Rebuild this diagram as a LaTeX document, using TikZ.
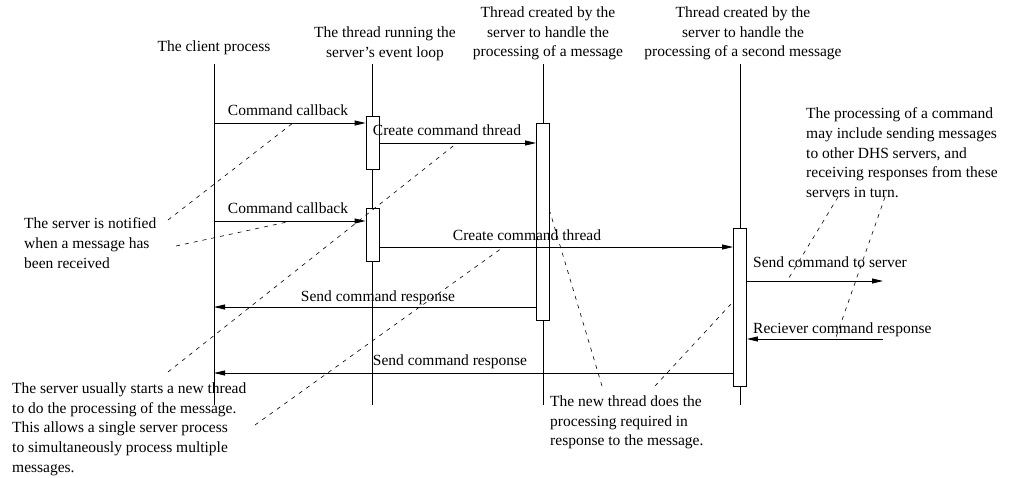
\documentclass[tikz,border=0pt]{standalone}
\usepackage{fontspec}
\setmainfont{Liberation Serif}
\usetikzlibrary{arrows.meta}
\tikzset{
  lifeline/.style={line width=0.8pt},
  actbox/.style={draw,fill=white,line width=0.8pt,minimum width=13pt,inner sep=0pt},
  msg/.style={->,line width=0.8pt},
  msglbl/.style={anchor=base,inner sep=0pt},
  head/.style={align=center,anchor=north,inner sep=0pt},
  note/.style={align=left,anchor=north west,inner sep=0pt},
  pointer/.style={line width=0.6pt,dash pattern=on 4pt off 5pt}
}
\begin{document}
\begin{tikzpicture}[x=1pt,y=-1pt,>={Triangle[length=11pt,width=5pt]},font=\fontsize{15.5}{19.8}\selectfont]
	\useasboundingbox (0,0) rectangle (1011,477);
	% headings
	\node[head] (hcl) at (214,40.5) {The client process};
	\node[head] (hev) at (385,26.4) {The thread running the\\server's event loop};
	\node[head] (htA) at (548,6.4) {Thread created by the\\server to handle the\\processing of a message};
	\node[head] (htB) at (743,6.4) {Thread created by the\\server to handle the\\processing of a second message};
	% lifelines
	\foreach \n/\x in {cl/214,ev/372,tA/543,tB/740}{
		\coordinate (\n-top) at (\x,64);
		\coordinate (\n-bot) at (\x,405);
		\draw[lifeline] (\n-top)--(\n-bot);
	}
	% activation boxes
	\node[actbox,minimum height=53pt] (evA) at (372.5,142.5) {};
	\node[actbox,minimum height=53pt] (evB) at (372.5,234.5) {};
	\node[actbox,minimum height=197pt] (tAbox) at (543,221.5) {};
	\node[actbox,minimum height=158pt] (tBbox) at (740,307) {};
	% messages
	\coordinate (srvout) at (883,281);
	\coordinate (srvin) at (883,339);
	\draw[msg] (cl-top |- 0,123)--(evA.west |- 0,123);
	\draw[msg] (evA.east |- 0,143)--(tAbox.west |- 0,143);
	\draw[msg] (cl-top |- 0,221)--(evB.west |- 0,221);
	\draw[msg] (evB.east |- 0,247)--(tBbox.west |- 0,247);
	\draw[msg] (tAbox.west |- 0,307)--(cl-top |- 0,307);
	\draw[msg] (tBbox.west |- 0,373)--(cl-top |- 0,373);
	\draw[msg] (tBbox.east |- srvout)--(srvout);
	\draw[msg] (srvin)--(tBbox.east |- srvin);
	\node[msglbl] (lcbA) at (288,115) {Command callback};
	\node[msglbl] (lctA) at (447,135) {Create command thread};
	\node[msglbl] (lcbB) at (288,213) {Command callback};
	\node[msglbl] (lctB) at (527,240) {Create command thread};
	\node[msglbl] (lsrA) at (378,301) {Send command response};
	\node[msglbl] (lsrB) at (450,365) {Send command response};
	\node[msglbl,anchor=base west] (lsend) at (753,267) {Send command to server};
	\node[msglbl,anchor=base west] (lrecv) at (753,333) {Reciever command response};
	% notes
	\node[note] (nnotify) at (24,217.4) {The server is notified\\when a message has\\been received};
	\node[note] (nthread) at (12,382.4) {The server usually starts a new thread\\to do the processing of the message.\\This allows a single server process\\to simultaneously process multiple\\messages.};
	\node[note] (nnew) at (550,395.4) {The new thread does the\\processing required in\\response to the message.};
	\node[note] (ncmd) at (806,107.4) {The processing of a command\\may include sending messages\\to other DHS servers, and\\receiving responses from these\\servers in turn.};
	% pointers from the notes
	\coordinate (pA1) at (168,220); \coordinate (pA2) at (293,123);
	\coordinate (pB1) at (176,246); \coordinate (pB2) at (287,222);
	\coordinate (pC1) at (168,372); \coordinate (pC2) at (457,143);
	\coordinate (pD1) at (255,425); \coordinate (pD2) at (502,248);
	\coordinate (pE1) at (602,386); \coordinate (pE2) at (550,212);
	\coordinate (pF1) at (655,386); \coordinate (pF2) at (731,304);
	\coordinate (pG1) at (838,197); \coordinate (pG2) at (787,281);
	\coordinate (pH1) at (885,197); \coordinate (pH2) at (835,340);
	\foreach \p in {A,B,C,D,E,F,G,H}
		\draw[pointer] (p\p1)--(p\p2);
\end{tikzpicture}
\end{document}
